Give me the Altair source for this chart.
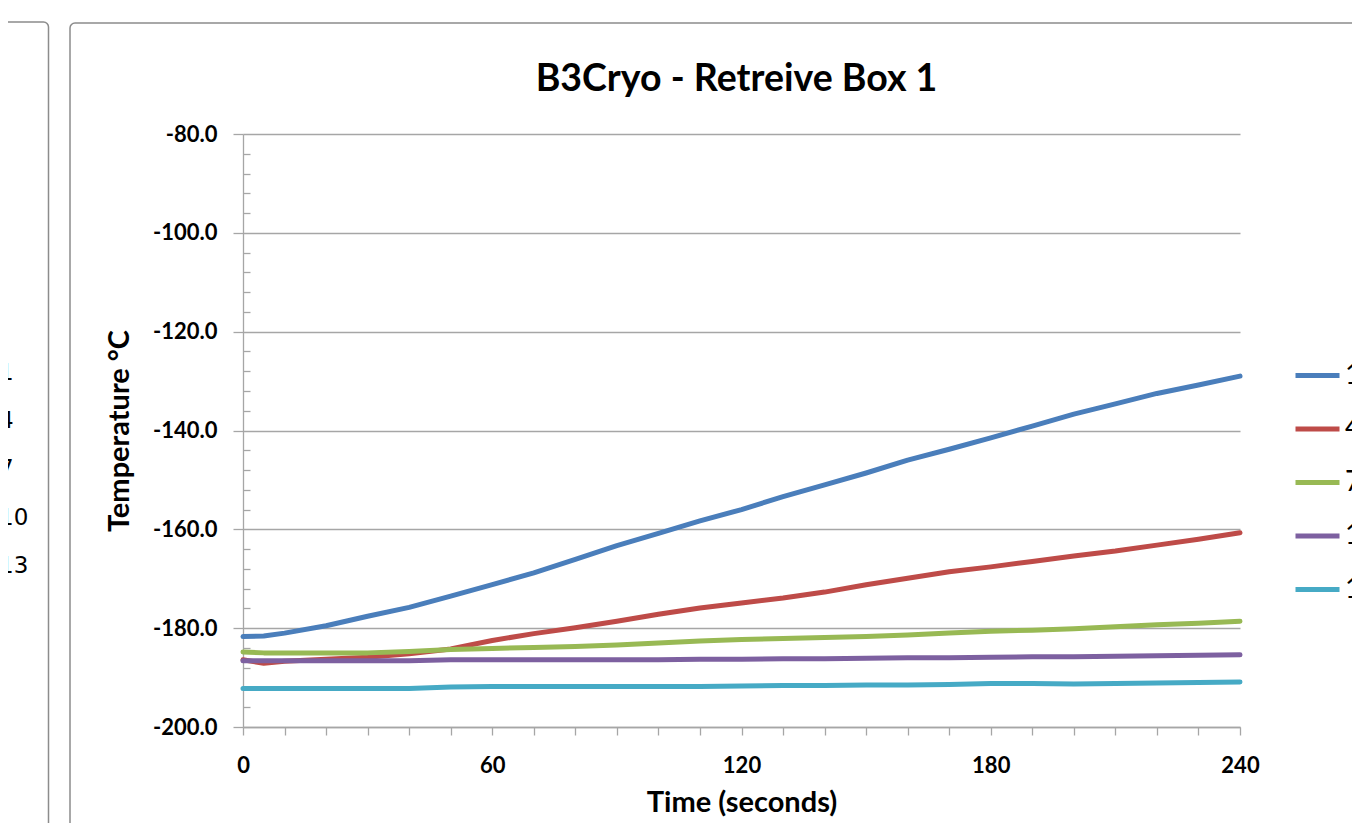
import altair as alt
import pandas as pd

# ---------------- data ----------------
time_s = [0, 5, 10, 20, 30, 40, 50, 60, 70, 80, 90, 100, 110, 120, 130,
          140, 150, 160, 170, 180, 190, 200, 210, 220, 230, 240]

series_names = ["1", "4", "7", "10", "13"]

temp_1 = [-181.7, -181.6, -181.0, -179.5, -177.6, -175.8, -173.5, -171.2, -168.8,
          -166.1, -163.3, -160.8, -158.3, -156.0, -153.4, -151.0, -148.6, -146.0,
          -143.8, -141.5, -139.1, -136.7, -134.6, -132.5, -130.8, -129.0]
temp_4 = [-186.4, -187.1, -186.7, -186.3, -185.9, -185.2, -184.2, -182.5, -181.1,
          -179.9, -178.6, -177.2, -175.9, -174.9, -173.9, -172.7, -171.2, -169.9,
          -168.6, -167.6, -166.5, -165.4, -164.4, -163.2, -162.0, -160.7]
temp_7 = [-184.8, -185.0, -185.0, -185.0, -185.0, -184.7, -184.3, -184.1, -183.9,
          -183.7, -183.4, -183.0, -182.6, -182.3, -182.1, -181.9, -181.7, -181.4,
          -181.0, -180.6, -180.4, -180.1, -179.7, -179.3, -179.0, -178.6]
temp_10 = [-186.6, -186.6, -186.6, -186.6, -186.6, -186.6, -186.4, -186.4, -186.4,
           -186.4, -186.4, -186.4, -186.3, -186.3, -186.2, -186.2, -186.1, -186.0,
           -186.0, -185.9, -185.8, -185.8, -185.7, -185.6, -185.5, -185.4]
temp_13 = [-192.2, -192.2, -192.2, -192.2, -192.2, -192.2, -191.9, -191.8, -191.8,
           -191.8, -191.8, -191.8, -191.8, -191.7, -191.6, -191.6, -191.5, -191.5,
           -191.4, -191.2, -191.2, -191.3, -191.2, -191.1, -191.0, -190.9]

series_colors = ["#4A7EBB", "#BE4B48", "#98B954", "#7D60A0", "#46AAC5"]

x_major_ticks = list(range(0, 241, 10))
y_major_ticks = list(range(-200, -79, 20))
y_minor_ticks = [v for v in range(-200, -79, 4) if v % 20 != 0]

rows = []
for name, vals in zip(series_names, [temp_1, temp_4, temp_7, temp_10, temp_13]):
    for t, v in zip(time_s, vals):
        rows.append({"time": t, "temp": v, "series": name, "panel": name})
df = pd.DataFrame(rows)

# ---------------- layout / style ----------------
W, H = 997, 593
FONT = "Lato"
GRAY = "#a6a6a6"
BORDER = "#8c8c8c"

x_scale = alt.Scale(domain=[0, 240], nice=False, zero=False)
y_scale = alt.Scale(domain=[-200, -80], nice=False, zero=False)

x_enc = alt.X(
    "time:Q", scale=x_scale,
    axis=alt.Axis(
        values=x_major_ticks,
        labelExpr="datum.value % 60 === 0 ? datum.label : ''",
        grid=False, tickSize=8, tickColor=GRAY, tickWidth=1.3,
        domainColor=GRAY, domainWidth=1.3,
        labelFont=FONT, labelFontSize=22, labelFontWeight="bold", labelColor="black",
        labelBaseline="alphabetic", labelPadding=37, labelFlush=False, labelOverlap=False,
        title="Time (seconds)", titleFont=FONT, titleFontSize=29, titleFontWeight="bold",
        titleColor="black", titleY=84, titleBaseline="alphabetic",
    ),
)

y_enc = alt.Y(
    "temp:Q", scale=y_scale,
    axis=alt.Axis(
        values=y_major_ticks, format=".1f",
        labelExpr="replace(datum.label, '\u2212', '-')",
        grid=True, gridColor=GRAY, gridWidth=1.3,
        tickSize=10, tickColor=GRAY, tickWidth=1.3,
        domainColor=GRAY, domainWidth=1.3,
        labelFont=FONT, labelFontSize=22, labelFontWeight="bold", labelColor="black",
        labelPadding=16, labelFlush=False, labelOverlap=False,
        title="Temperature °C", titleFont=FONT, titleFontSize=29, titleFontWeight="bold",
        titleColor="black", titleX=-115, titleBaseline="alphabetic",
    ),
)

y_minor_enc = alt.Y(
    "temp:Q", scale=y_scale,
    axis=alt.Axis(
        orient="right", offset=-W, values=y_minor_ticks,
        labels=False, domain=False, grid=False,
        tickSize=7, tickColor=GRAY, tickWidth=1.3, title=None,
    ),
)

one = pd.DataFrame({"k": [0]})

# Excel chart-object borders (decoration only)
left_box = alt.Chart(one).mark_rect(
    fill="transparent", stroke=BORDER, strokeWidth=1.5, cornerRadius=5
).encode(x=alt.value(-320), x2=alt.value(48.5 - 243), y=alt.value(22 - 134), y2=alt.value(900))

main_box = alt.Chart(one).mark_rect(
    fill="transparent", stroke=BORDER, strokeWidth=1.5, cornerRadius=5
).encode(x=alt.value(70 - 243), x2=alt.value(1600), y=alt.value(23 - 134), y2=alt.value(900))

minor_layer = alt.Chart(df).mark_line(opacity=0).encode(
    x=x_enc,
    y=y_minor_enc,
    detail="series:N",
)

lines = alt.Chart(df).mark_line(
    strokeWidth=5, strokeCap="round", strokeJoin="round"
).encode(
    x=x_enc,
    y=y_enc,
    color=alt.Color(
        "series:N",
        scale=alt.Scale(domain=series_names, range=series_colors),
        legend=alt.Legend(
            orient="none", legendX=1050, legendY=217, title=None, padding=0,
            symbolType="stroke", symbolSize=1936, symbolStrokeWidth=5,
            labelFont=FONT, labelFontSize=28, labelColor="black",
            labelOffset=3, rowPadding=14.5,
        ),
    ),
    opacity=alt.Opacity(
        "panel:N", sort=series_names,
        scale=alt.Scale(range=[1, 1, 1, 1, 1]),
        legend=alt.Legend(
            orient="none", legendX=-298, legendY=214, title=None, padding=0,
            symbolType="stroke", symbolSize=2500, symbolStrokeWidth=0,
            symbolStrokeColor="white", symbolOpacity=0,
            labelFont="DejaVu Sans", labelFontSize=23, labelColor="black",
            labelOffset=4, rowPadding=11.2,
        ),
    ),
)

chart = alt.layer(left_box, main_box, minor_layer, lines).resolve_axis(
    y="independent"
).properties(
    width=W, height=H,
    background="white",
    title=alt.TitleParams(
        "B3Cryo - Retreive Box 1", font=FONT, fontSize=37.5, fontWeight="bold",
        color="black", anchor="middle", frame="group", baseline="alphabetic",
        offset=-107, dx=-5,
    ),
    padding={"left": 235, "top": 126, "right": 112, "bottom": 96},
    autosize=alt.AutoSizeParams(type="none"),
).configure_view(stroke="transparent", strokeWidth=0)

chart.save("out.html", embed_options={"renderer": "svg", "actions": False})
